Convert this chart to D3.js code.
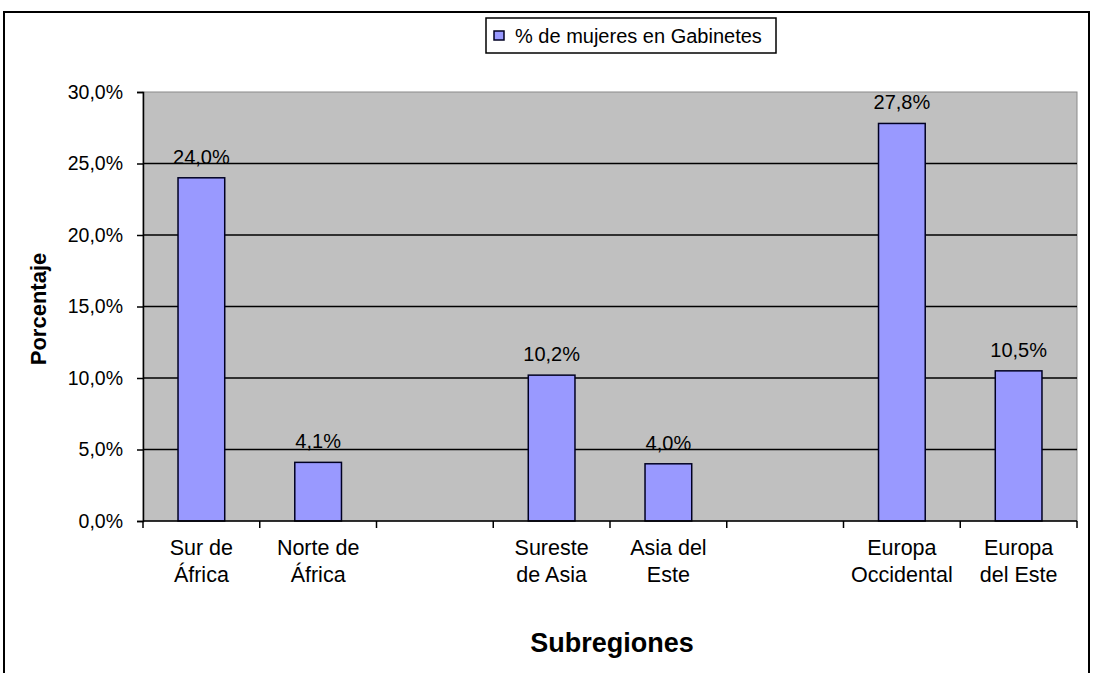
<!DOCTYPE html>
<html>
<head>
<meta charset="utf-8">
<script src="https://cdn.jsdelivr.net/npm/d3@7"></script>
<style>
  body { margin: 0; background: #fff; }
  svg { display: block; }
</style>
</head>
<body>
<div id="chart"></div>
<script>
// categories (empty slots are gaps in the original chart)
const categories = [
  ["Sur de", "África"],
  ["Norte de", "África"],
  [],
  ["Sureste", "de Asia"],
  ["Asia del", "Este"],
  [],
  ["Europa", "Occidental"],
  ["Europa", "del Este"]
];
const values = [24.0, 4.1, null, 10.2, 4.0, null, 27.8, 10.5];
const yTicks = [0, 5, 10, 15, 20, 25, 30];
const seriesName = "% de mujeres en Gabinetes";

const W = 1094, H = 673;
const plot = {left: 143, right: 1077, top: 92, bottom: 521};
const font = "Liberation Sans, Arial, sans-serif";

const fmt = v => v.toFixed(1).replace(".", ",") + "%";

const svg = d3.select("#chart").append("svg")
    .attr("width", W)
    .attr("height", H);

// outer chart border
svg.append("rect")
    .attr("x", 4).attr("y", 12)
    .attr("width", 1085).attr("height", 700)
    .attr("fill", "none")
    .attr("stroke", "#000")
    .attr("stroke-width", 2);

const x = d3.scaleBand()
    .domain(d3.range(categories.length))
    .range([plot.left, plot.right])
    .paddingInner(0).paddingOuter(0);

const y = d3.scaleLinear()
    .domain([0, 30])
    .range([plot.bottom, plot.top]);

// plot area
svg.append("rect")
    .attr("x", plot.left).attr("y", plot.top)
    .attr("width", plot.right - plot.left)
    .attr("height", plot.bottom - plot.top)
    .attr("fill", "#c0c0c0")
    .attr("stroke", "#8a8a8a")
    .attr("stroke-width", 1);

// gridlines
svg.append("g")
    .selectAll("line")
    .data(yTicks.filter(d => d > 0 && d < 30))
    .join("line")
    .attr("x1", plot.left).attr("x2", plot.right)
    .attr("y1", d => y(d)).attr("y2", d => y(d))
    .attr("stroke", "#000")
    .attr("stroke-width", 1.5);

// bars
const barW = x.bandwidth() / 2.5;
const data = values.map((v, i) => ({i, v})).filter(d => d.v !== null);

svg.append("g")
    .selectAll("rect")
    .data(data)
    .join("rect")
    .attr("x", d => x(d.i) + (x.bandwidth() - barW) / 2)
    .attr("y", d => y(d.v))
    .attr("width", barW)
    .attr("height", d => y(0) - y(d.v))
    .attr("fill", "#9999ff")
    .attr("stroke", "#000022")
    .attr("stroke-width", 1.5);

// value labels
svg.append("g")
    .selectAll("text")
    .data(data)
    .join("text")
    .attr("x", d => x(d.i) + x.bandwidth() / 2)
    .attr("y", d => y(d.v) - 14)
    .attr("text-anchor", "middle")
    .style("font", `20px ${font}`)
    .attr("fill", "#000")
    .text(d => fmt(d.v));

// y axis
const yAxis = d3.axisLeft(y)
    .tickValues(yTicks)
    .tickSize(6)
    .tickPadding(14)
    .tickFormat(fmt);

const gy = svg.append("g")
    .attr("transform", `translate(${plot.left},0)`)
    .call(yAxis);
gy.select(".domain").attr("stroke", "#000").attr("stroke-width", 1.5);
gy.selectAll(".tick line").attr("stroke", "#000").attr("stroke-width", 1.5);
gy.selectAll(".tick text").style("font", `19.5px ${font}`).attr("fill", "#000");

// x axis: ticks at category boundaries
const xAxis = svg.append("g");
xAxis.append("line")
    .attr("x1", plot.left).attr("x2", plot.right)
    .attr("y1", plot.bottom).attr("y2", plot.bottom)
    .attr("stroke", "#000").attr("stroke-width", 1.5);
xAxis.selectAll("line.tk")
    .data(d3.range(categories.length + 1))
    .join("line")
    .attr("class", "tk")
    .attr("x1", i => plot.left + i * x.step())
    .attr("x2", i => plot.left + i * x.step())
    .attr("y1", plot.bottom).attr("y2", plot.bottom + 7)
    .attr("stroke", "#000").attr("stroke-width", 1.5);

xAxis.selectAll("text.cat")
    .data(categories.map((c, i) => ({c, i})))
    .join("text")
    .attr("class", "cat")
    .attr("x", d => x(d.i) + x.bandwidth() / 2)
    .attr("y", 555)
    .attr("text-anchor", "middle")
    .style("font", `21.5px ${font}`)
    .attr("fill", "#000")
    .selectAll("tspan")
    .data(d => d.c.map(line => ({line, cx: x(d.i) + x.bandwidth() / 2})))
    .join("tspan")
    .attr("x", d => d.cx)
    .attr("dy", (d, j) => j === 0 ? 0 : 27)
    .text(d => d.line);

// axis titles
svg.append("text")
    .attr("transform", `translate(46, 309) rotate(-90)`)
    .attr("text-anchor", "middle")
    .style("font", `bold 22px ${font}`)
    .text("Porcentaje");

svg.append("text")
    .attr("x", 612).attr("y", 652)
    .attr("text-anchor", "middle")
    .style("font", `bold 27px ${font}`)
    .text("Subregiones");

// legend
const lg = svg.append("g").attr("transform", "translate(486,18)");
lg.append("rect")
    .attr("width", 290).attr("height", 35)
    .attr("fill", "#fff")
    .attr("stroke", "#000")
    .attr("stroke-width", 1.5);
lg.append("rect")
    .attr("x", 8).attr("y", 13)
    .attr("width", 10).attr("height", 9)
    .attr("fill", "#9999ff")
    .attr("stroke", "#000022")
    .attr("stroke-width", 1.5);
lg.append("text")
    .attr("x", 29).attr("y", 25)
    .style("font", `20px ${font}`)
    .text(seriesName);
</script>
</body>
</html>
